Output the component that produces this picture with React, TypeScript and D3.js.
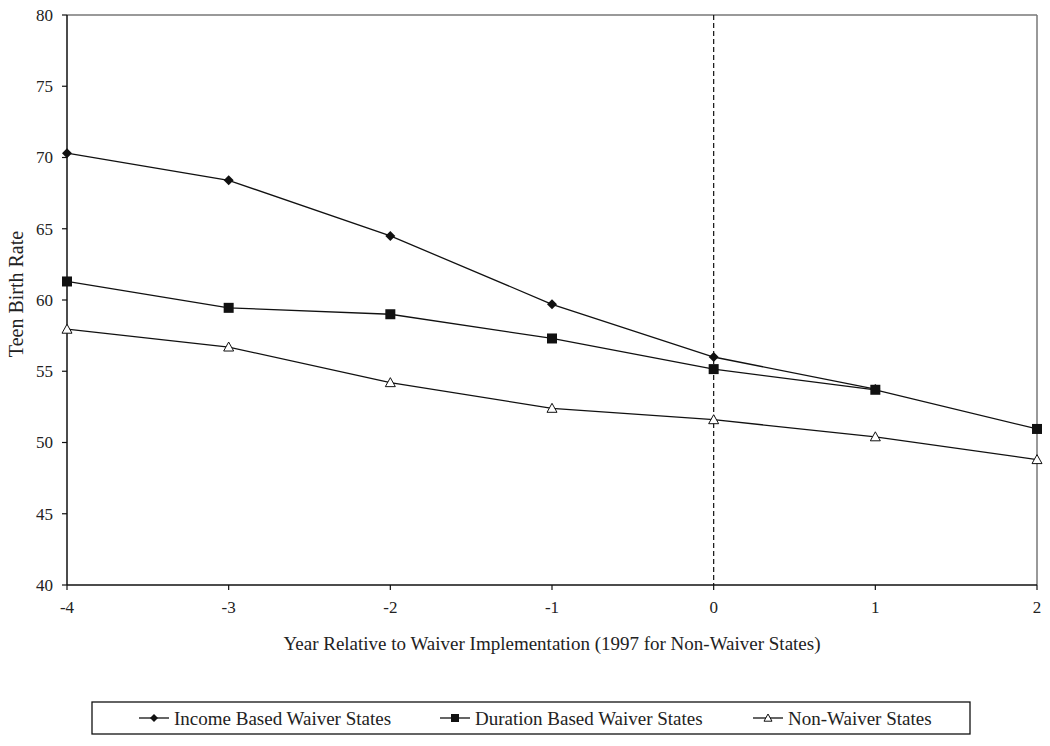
import React from "react";
import * as d3 from "d3";

const years = [-4, -3, -2, -1, 0, 1, 2];
const incomeBased = [70.3, 68.4, 64.5, 59.7, 56.0, 53.75];
const durationBased = [61.3, 59.45, 59.0, 57.3, 55.15, 53.7, 50.95];
const nonWaiver = [57.95, 56.7, 54.2, 52.4, 51.6, 50.4, 48.8];
const yTicks = [40, 45, 50, 55, 60, 65, 70, 75, 80];
const legendLabels = ["Income Based Waiver States", "Duration Based Waiver States", "Non-Waiver States"];

const FONT = "'Liberation Serif', 'Times New Roman', serif";

export default function App() {
  const W = 1050, H = 746;
  const left = 67, right = 1037, top = 15, bottom = 585;
  const x = d3.scaleLinear().domain([-4, 2]).range([left, right]);
  const y = d3.scaleLinear().domain([40, 80]).range([bottom, top]);
  const line = d3.line<[number, number]>().x(d => x(d[0])).y(d => y(d[1]));
  const pts = (vals: number[]) => vals.map((v, i) => [years[i], v] as [number, number]);

  const diamond = (cx: number, cy: number, k: string, r = 5) => (
    <path key={k} d={`M${cx},${cy - r}L${cx + r},${cy}L${cx},${cy + r}L${cx - r},${cy}Z`} fill="#111" />
  );
  const square = (cx: number, cy: number, k: string, r = 5) => (
    <rect key={k} x={cx - r} y={cy - r} width={2 * r} height={2 * r} fill="#111" />
  );
  const triangle = (cx: number, cy: number, k: string, r = 5) => (
    <path key={k} d={`M${cx},${cy - r}L${cx + r},${cy + r * 0.8}L${cx - r},${cy + r * 0.8}Z`} fill="#fff" stroke="#111" strokeWidth={1} />
  );

  const legendItems = [
    { x: 139, marker: diamond },
    { x: 440, marker: square },
    { x: 753, marker: triangle },
  ];

  return (
    <svg width={W} height={H} style={{ position: "absolute", left: 0, top: 0 }} fontFamily={FONT}>
      <rect width={W} height={H} fill="#fff" />
      {/* frame */}
      <line x1={left} x2={right} y1={top} y2={top} stroke="#777" strokeWidth={1.5} />
      <line x1={right} x2={right} y1={top} y2={bottom} stroke="#777" strokeWidth={1.5} />
      {/* dashed zero line */}
      <line x1={x(0)} x2={x(0)} y1={top} y2={bottom} stroke="#111" strokeWidth={1.2} strokeDasharray="5,3" />
      {/* axes */}
      <line x1={left} x2={left} y1={top} y2={bottom} stroke="#111" strokeWidth={1.5} />
      <line x1={left} x2={right} y1={bottom} y2={bottom} stroke="#111" strokeWidth={1.5} />
      {yTicks.map(t => (
        <g key={t}>
          <line x1={left - 5} x2={left} y1={y(t)} y2={y(t)} stroke="#111" strokeWidth={1.2} />
          <text x={left - 14} y={y(t)} dy="0.35em" textAnchor="end" fontSize={17} fill="#222">{t}</text>
        </g>
      ))}
      {years.map(t => (
        <g key={t}>
          <line x1={x(t)} x2={x(t)} y1={bottom} y2={bottom + 5} stroke="#111" strokeWidth={1.2} />
          <text x={x(t)} y={bottom + 28} textAnchor="middle" fontSize={17} fill="#222">{t}</text>
        </g>
      ))}
      <text x={552} y={650} textAnchor="middle" fontSize={19} fill="#222">Year Relative to Waiver Implementation (1997 for Non-Waiver States)</text>
      <text transform={`translate(23,${294}) rotate(-90)`} textAnchor="middle" fontSize={20} fill="#222">Teen Birth Rate</text>

      {/* series */}
      <path d={line(pts(incomeBased)) || ""} fill="none" stroke="#111" strokeWidth={1.3} />
      <path d={line(pts(durationBased)) || ""} fill="none" stroke="#111" strokeWidth={1.3} />
      <path d={line(pts(nonWaiver)) || ""} fill="none" stroke="#111" strokeWidth={1.3} />
      {pts(incomeBased).map((p, i) => diamond(x(p[0]), y(p[1]), "i" + i))}
      {pts(durationBased).map((p, i) => square(x(p[0]), y(p[1]), "d" + i))}
      {pts(nonWaiver).map((p, i) => triangle(x(p[0]), y(p[1]), "n" + i))}

      {/* legend */}
      <rect x={92} y={702} width={878} height={32} fill="#fff" stroke="#111" strokeWidth={1.3} />
      {legendItems.map((it, i) => (
        <g key={i}>
          <line x1={it.x} x2={it.x + 30} y1={718} y2={718} stroke="#111" strokeWidth={1.3} />
          {it.marker(it.x + 15, 718, "lm" + i, 4)}
          <text x={it.x + 35} y={718} dy="0.35em" fontSize={19} fill="#222">{legendLabels[i]}</text>
        </g>
      ))}
    </svg>
  );
}
